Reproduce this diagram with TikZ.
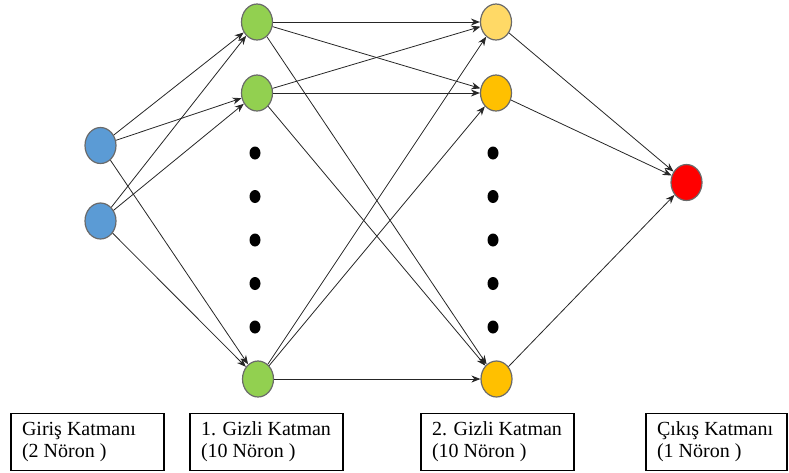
\documentclass[tikz,border=0pt]{standalone}
\usepackage{fontspec}
\setmainfont{Liberation Serif}
\usepackage{xcolor}
\usetikzlibrary{arrows.meta,shapes.geometric}
\definecolor{inblue}{HTML}{5B9BD5}
\definecolor{hidgreen}{HTML}{92D050}
\definecolor{lightorange}{HTML}{FFD966}
\definecolor{hidorange}{HTML}{FFC000}
\definecolor{outred}{HTML}{FF0000}
\definecolor{rimgray}{HTML}{6A6A6A}
\tikzstyle{neuron} = [ellipse, draw=rimgray, line width=1.2pt, minimum width=31pt, minimum height=36pt, inner sep=0pt]
\tikzstyle{dot} = [ellipse, fill=black, minimum width=11pt, minimum height=13pt, inner sep=0pt]
\tikzstyle{layer} = [rectangle, draw=black, line width=1.3pt, minimum width=153pt, minimum height=57pt, inner xsep=11pt, text width=131pt, align=flush left, font=\fontsize{20}{22}\selectfont]
\tikzstyle{arrow} = [-{Stealth[length=9pt,width=7pt]}, draw=black!85, line width=0.8pt]

\begin{document}
\begin{tikzpicture}[x=1pt,y=-1pt]
			\useasboundingbox (0,0) rectangle (789,472);
			% input layer
			\node[neuron, fill=inblue] (in1) at (100.5,145.5) {};
			\node[neuron, fill=inblue] (in2) at (100.5,221) {};
			% first hidden layer
			\node[neuron, fill=hidgreen] (h1a) at (257,22) {};
			\node[neuron, fill=hidgreen] (h1b) at (257,93) {};
			\node[neuron, fill=hidgreen] (h1c) at (258,379) {};
			% second hidden layer
			\node[neuron, fill=lightorange] (h2a) at (496,22) {};
			\node[neuron, fill=hidorange] (h2b) at (496,93) {};
			\node[neuron, fill=hidorange] (h2c) at (496.5,379) {};
			% output layer
			\node[neuron, fill=outred] (out) at (686.5,182.5) {};
			
			\foreach \y in {153,196.5,240,283.5,327}{
				\node[dot] at (255,\y) {};
				\node[dot] at (493,\y) {};
			}
			
			\draw[arrow] (in1) -- (h1a);
			\draw[arrow] (in1) -- (h1b);
			\draw[arrow] (in1) -- (h1c);
			\draw[arrow] (in2) -- (h1a);
			\draw[arrow] (in2) -- (h1b);
			\draw[arrow] (in2) -- (h1c);
			
			\draw[arrow] (h1a) -- (h2a);
			\draw[arrow] (h1a) -- (h2b);
			\draw[arrow] (h1a) -- (h2c);
			\draw[arrow] (h1b) -- (h2a);
			\draw[arrow] (h1b) -- (h2b);
			\draw[arrow] (h1b) -- (h2c);
			\draw[arrow] (h1c) -- (h2a);
			\draw[arrow] (h1c) -- (h2b);
			\draw[arrow] (h1c) -- (h2c);
			
			\draw[arrow] (h2a) -- (out);
			\draw[arrow] (h2b) -- (out);
			\draw[arrow] (h2c) -- (out);
			
			% layer captions
			\node[layer] (inLabel) at (87.5,442) {Giriş Katmanı\\(2 Nöron )};
			\node[layer] (h1Label) at (266.5,442) {1. Gizli Katman\\(10 Nöron )};
			\node[layer] (h2Label) at (497.5,442) {2. Gizli Katman\\(10 Nöron )};
			\node[layer, minimum width=141pt, text width=119pt] (outLabel) at (716.5,442) {Çıkış Katmanı\\(1 Nöron )};
			\end{tikzpicture}
\end{document}
